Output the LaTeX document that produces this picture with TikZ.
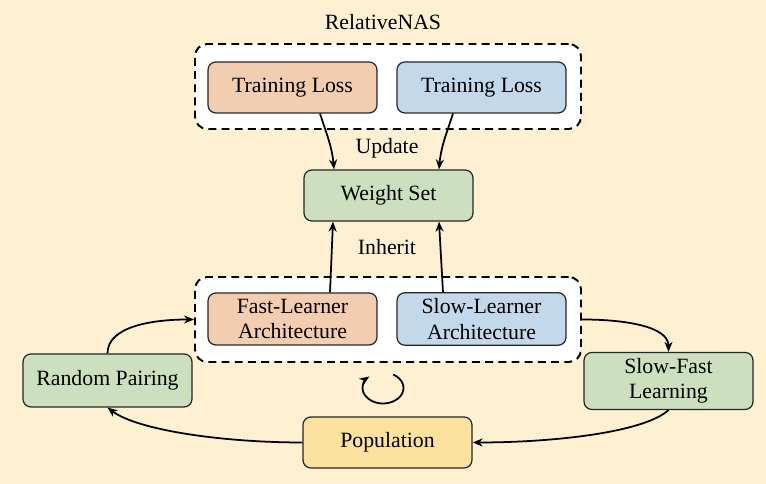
\documentclass[tikz,border=0pt]{standalone}
\usepackage{fontspec}
\setmainfont{Liberation Serif}
\usetikzlibrary{arrows.meta}
\definecolor{bgyellow}{HTML}{FDF1D2}
\definecolor{fastcol}{HTML}{F3CDB0}
\definecolor{slowcol}{HTML}{C4D8EC}
\definecolor{greencol}{HTML}{CCE0BF}
\definecolor{popcol}{HTML}{FBE29F}

\begin{document}
\begin{tikzpicture}[font=\fontsize{12.4}{14.5}\selectfont,
  box/.style={draw=black!85, line width=0.7pt, rounded corners=4.5pt, minimum width=3.38cm, minimum height=1.02cm, align=center},
  group/.style={draw, line width=1.1pt, dash pattern=on 4.5pt off 3pt, fill=white, rounded corners=7pt, minimum width=7.72cm, minimum height=1.70cm},
  flow/.style={-{Stealth[length=2mm,width=1.6mm]}, line width=1pt}]
  \useasboundingbox[fill=bgyellow] (0,0) rectangle (15.32,9.68);

  \node (title) at (7.66cm,9.24cm) {RelativeNAS};

  \node[group] (topgrp) at (7.76cm,7.95cm) {};
  \node[box, fill=fastcol] (tl1) at (5.85cm,7.93cm) {Training Loss};
  \node[box, fill=slowcol] (tl2) at (9.63cm,7.93cm) {Training Loss};

  \node (upd) at (7.74cm,6.72cm) {Update};
  \node[box, fill=greencol] (ws) at (7.77cm,5.77cm) {Weight Set};
  \node (inh) at (7.74cm,4.74cm) {Inherit};

  \node[group] (botgrp) at (7.76cm,3.29cm) {};
  \node[box, fill=fastcol, minimum height=1.04cm] (fast) at (5.85cm,3.30cm) {Fast-Learner\\Architecture};
  \node[box, fill=slowcol, minimum height=1.04cm] (slow) at (9.63cm,3.30cm) {Slow-Learner\\Architecture};

  \node[box, fill=greencol, minimum height=1.06cm] (rp) at (2.15cm,2.07cm) {Random Pairing};
  \node[box, fill=greencol, minimum height=1.08cm] (sf) at (13.37cm,2.06cm) {Slow-Fast\\Learning};
  \node[box, fill=popcol] (pop) at (7.75cm,0.83cm) {Population};
  \coordinate (loop) at (7.66cm,1.92cm);

  \draw[flow] ([xshift=0.55cm]tl1.south) to[out=-72,in=95] ([xshift=-1.09cm]ws.north);
  \draw[flow] ([xshift=-0.57cm]tl2.south) to[out=-108,in=85] ([xshift=1.01cm]ws.north);
  \draw[flow] ([xshift=0.75cm]fast.north) -- ([xshift=-1.11cm]ws.south);
  \draw[flow] ([xshift=-0.77cm]slow.north) -- ([xshift=1.01cm]ws.south);
  \draw[flow] (rp.north) .. controls +(0,0.55) and +(-0.8,0) .. (botgrp.west);
  \draw[flow] (botgrp.east) .. controls +(0.9,0) and +(0,0.5) .. (sf.north);
  \draw[flow] (sf.south) .. controls +(-0.5,-0.45) and +(1.6,0) .. (pop.east);
  \draw[flow] (pop.west) .. controls +(-1.6,0) and +(0.6,-0.45) .. (rp.south);
  \draw[flow] ([shift={(60:0.41cm and 0.31cm)}]loop) arc[start angle=60, end angle=-228, x radius=0.41cm, y radius=0.31cm];
\end{tikzpicture}
\end{document}
